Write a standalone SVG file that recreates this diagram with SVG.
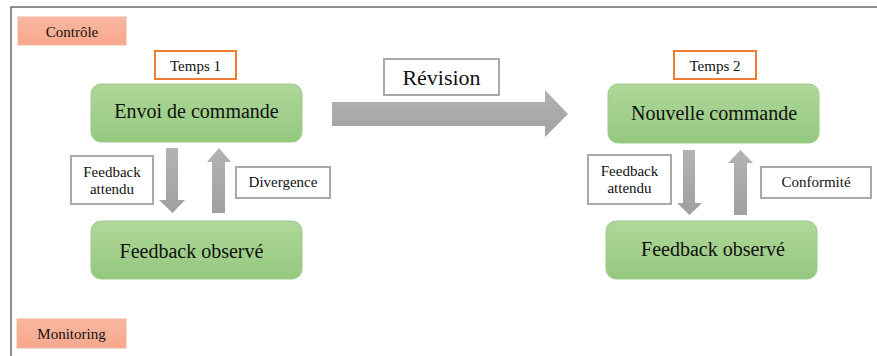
<svg xmlns="http://www.w3.org/2000/svg" width="877" height="356" viewBox="0 0 877 356">
<defs>
<linearGradient id="gGreen" x1="0" y1="0" x2="0" y2="1">
<stop offset="0" stop-color="#B0D79A"/>
<stop offset="1" stop-color="#93C87E"/>
</linearGradient>
<linearGradient id="gSalmon" x1="0" y1="0" x2="0" y2="1">
<stop offset="0" stop-color="#F9B7A0"/>
<stop offset="1" stop-color="#F7A78B"/>
</linearGradient>
<linearGradient id="gGrayH" x1="0" y1="0" x2="0" y2="1">
<stop offset="0" stop-color="#B2B2B2"/>
<stop offset="1" stop-color="#A2A2A2"/>
</linearGradient>
<linearGradient id="gGrayV" x1="0" y1="0" x2="0" y2="1">
<stop offset="0" stop-color="#B3B3B3"/>
<stop offset="1" stop-color="#A0A0A0"/>
</linearGradient>
</defs>
<style>
text{font-family:"Liberation Serif","Times New Roman",serif;fill:#111;text-anchor:middle}
.green{fill:url(#gGreen);stroke:#9CCB88;stroke-width:1}
.salmon{fill:url(#gSalmon);stroke:#F2B59E;stroke-width:1}
.temps{fill:#fff;stroke:#ED7D31;stroke-width:2}
.lbl{fill:#fff;stroke:#A9A9A9;stroke-width:2}
.big{font-size:20px}
.mid{font-size:15px}
.arr{fill:url(#gGrayV)}
</style>
<rect width="877" height="356" fill="#fff"/>
<g id="frame" fill="none" stroke="#6A6A6A" stroke-width="1.5">
<path d="M11 356 V7 H877"/>
</g>
<g id="controle"><rect class="salmon" x="18" y="17" width="108" height="28"/><text class="mid" x="72" y="37">Contrôle</text></g>
<g id="monitoring"><rect class="salmon" x="17" y="319" width="109" height="29"/><text class="mid" x="71.5" y="339">Monitoring</text></g>
<g id="temps1"><rect class="temps" x="155" y="51" width="81" height="28"/><text class="mid" x="195.5" y="71">Temps 1</text></g>
<g id="temps2"><rect class="temps" x="674" y="51" width="82" height="28"/><text class="mid" x="715" y="71">Temps 2</text></g>
<g id="envoi"><rect class="green" x="91" y="84" width="211" height="58" rx="10"/><text class="big" x="196.5" y="118">Envoi de commande</text></g>
<g id="observe1"><rect class="green" x="91" y="221" width="211" height="58" rx="10"/><text class="big" x="191.5" y="258">Feedback observé</text></g>
<g id="nouvelle"><rect class="green" x="608" y="84" width="211" height="59" rx="10"/><text class="big" x="714" y="120">Nouvelle commande</text></g>
<g id="observe2"><rect class="green" x="606" y="221" width="211" height="58" rx="10"/><text class="big" x="713" y="256">Feedback observé</text></g>
<g id="connectors">
<polygon class="arr" points="166,148 178,148 178,200 185,200 172.5,213 159,200 166,200"/>
<polygon class="arr" points="212,213 225,213 225,162 231,162 219,148 207,162 212,162"/>
<polygon class="arr" points="683,150 695,150 695,203 702,203 689.5,215 677,203 683,203"/>
<polygon class="arr" points="734,215 747,215 747,163 753,163 740.5,150 728,163 734,163"/>
<polygon fill="url(#gGrayH)" points="332,102 545,102 545,90 568,114 545,137 545,126 332,126"/>
</g>
<g id="revision"><rect class="lbl" x="384" y="59" width="115" height="36"/><text x="441.5" y="85" font-size="22px">Révision</text></g>
<g id="attendu1"><rect class="lbl" x="71" y="156" width="82" height="48"/><text class="mid" x="112" y="177">Feedback</text><text class="mid" x="112" y="194">attendu</text></g>
<g id="divergence"><rect class="lbl" x="236" y="167" width="94" height="31"/><text class="mid" x="283" y="187">Divergence</text></g>
<g id="attendu2"><rect class="lbl" x="588" y="155" width="83" height="49"/><text class="mid" x="629.5" y="176">Feedback</text><text class="mid" x="629.5" y="193">attendu</text></g>
<g id="conformite"><rect class="lbl" x="761" y="167" width="110" height="31"/><text class="mid" x="816" y="187">Conformité</text></g>
</svg>
